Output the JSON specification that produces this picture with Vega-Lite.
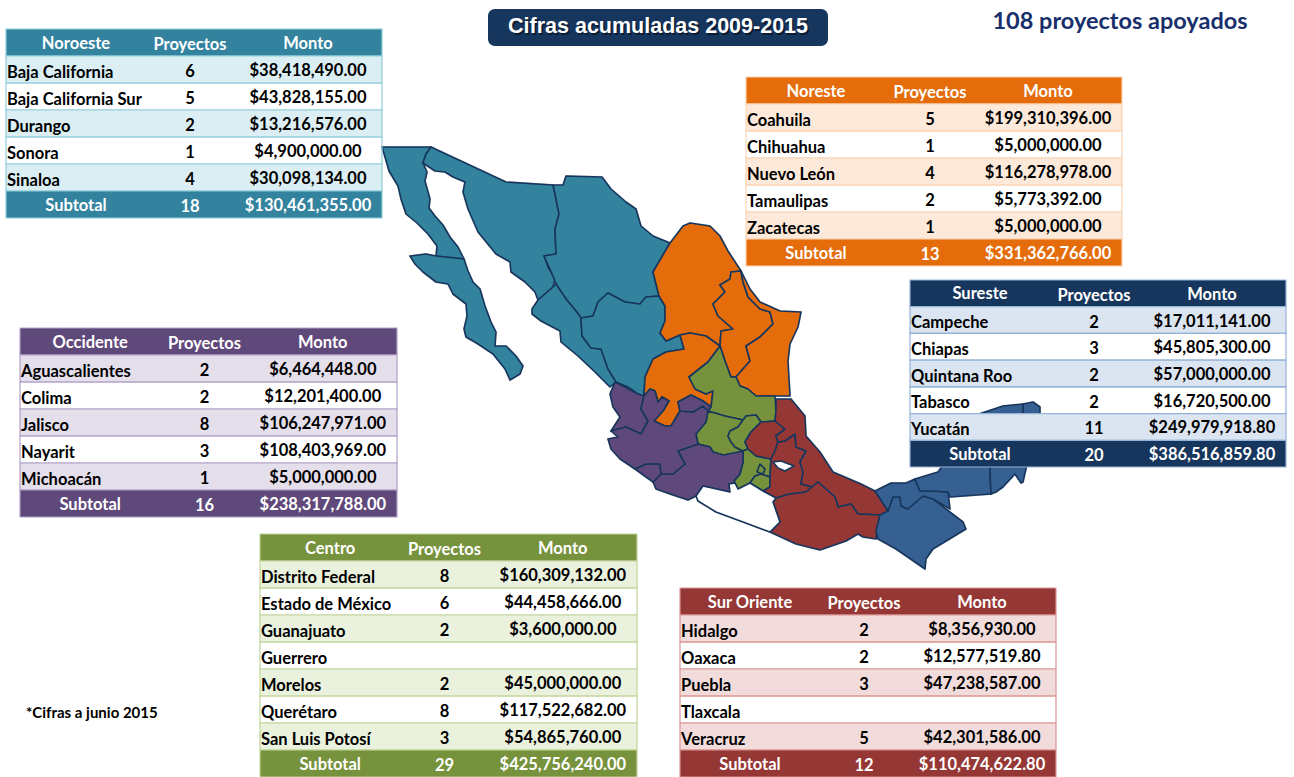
{"$schema":"https://vega.github.io/schema/vega-lite/v6.json","width":1294,"height":777,"padding":0,"autosize":{"type":"fit","contains":"padding"},"background":"white","view":{"stroke":null},
"datasets":{
"tablas":[
{"region":"Noroeste","fila":"encabezado","nombre":"Noroeste","proyectos":"Proyectos","monto":"Monto"},
{"region":"Noroeste","fila":"par","nombre":"Baja California","proyectos":"6","monto":"$38,418,490.00"},
{"region":"Noroeste","fila":"impar","nombre":"Baja California Sur","proyectos":"5","monto":"$43,828,155.00"},
{"region":"Noroeste","fila":"par","nombre":"Durango","proyectos":"2","monto":"$13,216,576.00"},
{"region":"Noroeste","fila":"impar","nombre":"Sonora","proyectos":"1","monto":"$4,900,000.00"},
{"region":"Noroeste","fila":"par","nombre":"Sinaloa","proyectos":"4","monto":"$30,098,134.00"},
{"region":"Noroeste","fila":"subtotal","nombre":"Subtotal","proyectos":"18","monto":"$130,461,355.00"},
{"region":"Noreste","fila":"encabezado","nombre":"Noreste","proyectos":"Proyectos","monto":"Monto"},
{"region":"Noreste","fila":"par","nombre":"Coahuila","proyectos":"5","monto":"$199,310,396.00"},
{"region":"Noreste","fila":"impar","nombre":"Chihuahua","proyectos":"1","monto":"$5,000,000.00"},
{"region":"Noreste","fila":"par","nombre":"Nuevo León","proyectos":"4","monto":"$116,278,978.00"},
{"region":"Noreste","fila":"impar","nombre":"Tamaulipas","proyectos":"2","monto":"$5,773,392.00"},
{"region":"Noreste","fila":"par","nombre":"Zacatecas","proyectos":"1","monto":"$5,000,000.00"},
{"region":"Noreste","fila":"subtotal","nombre":"Subtotal","proyectos":"13","monto":"$331,362,766.00"},
{"region":"Sureste","fila":"encabezado","nombre":"Sureste","proyectos":"Proyectos","monto":"Monto"},
{"region":"Sureste","fila":"par","nombre":"Campeche","proyectos":"2","monto":"$17,011,141.00"},
{"region":"Sureste","fila":"impar","nombre":"Chiapas","proyectos":"3","monto":"$45,805,300.00"},
{"region":"Sureste","fila":"par","nombre":"Quintana Roo","proyectos":"2","monto":"$57,000,000.00"},
{"region":"Sureste","fila":"impar","nombre":"Tabasco","proyectos":"2","monto":"$16,720,500.00"},
{"region":"Sureste","fila":"par","nombre":"Yucatán","proyectos":"11","monto":"$249,979,918.80"},
{"region":"Sureste","fila":"subtotal","nombre":"Subtotal","proyectos":"20","monto":"$386,516,859.80"},
{"region":"Occidente","fila":"encabezado","nombre":"Occidente","proyectos":"Proyectos","monto":"Monto"},
{"region":"Occidente","fila":"par","nombre":"Aguascalientes","proyectos":"2","monto":"$6,464,448.00"},
{"region":"Occidente","fila":"impar","nombre":"Colima","proyectos":"2","monto":"$12,201,400.00"},
{"region":"Occidente","fila":"par","nombre":"Jalisco","proyectos":"8","monto":"$106,247,971.00"},
{"region":"Occidente","fila":"impar","nombre":"Nayarit","proyectos":"3","monto":"$108,403,969.00"},
{"region":"Occidente","fila":"par","nombre":"Michoacán","proyectos":"1","monto":"$5,000,000.00"},
{"region":"Occidente","fila":"subtotal","nombre":"Subtotal","proyectos":"16","monto":"$238,317,788.00"},
{"region":"Centro","fila":"encabezado","nombre":"Centro","proyectos":"Proyectos","monto":"Monto"},
{"region":"Centro","fila":"par","nombre":"Distrito Federal","proyectos":"8","monto":"$160,309,132.00"},
{"region":"Centro","fila":"impar","nombre":"Estado de México","proyectos":"6","monto":"$44,458,666.00"},
{"region":"Centro","fila":"par","nombre":"Guanajuato","proyectos":"2","monto":"$3,600,000.00"},
{"region":"Centro","fila":"impar","nombre":"Guerrero","proyectos":"","monto":""},
{"region":"Centro","fila":"par","nombre":"Morelos","proyectos":"2","monto":"$45,000,000.00"},
{"region":"Centro","fila":"impar","nombre":"Querétaro","proyectos":"8","monto":"$117,522,682.00"},
{"region":"Centro","fila":"par","nombre":"San Luis Potosí","proyectos":"3","monto":"$54,865,760.00"},
{"region":"Centro","fila":"subtotal","nombre":"Subtotal","proyectos":"29","monto":"$425,756,240.00"},
{"region":"Sur Oriente","fila":"encabezado","nombre":"Sur Oriente","proyectos":"Proyectos","monto":"Monto"},
{"region":"Sur Oriente","fila":"par","nombre":"Hidalgo","proyectos":"2","monto":"$8,356,930.00"},
{"region":"Sur Oriente","fila":"impar","nombre":"Oaxaca","proyectos":"2","monto":"$12,577,519.80"},
{"region":"Sur Oriente","fila":"par","nombre":"Puebla","proyectos":"3","monto":"$47,238,587.00"},
{"region":"Sur Oriente","fila":"impar","nombre":"Tlaxcala","proyectos":"","monto":""},
{"region":"Sur Oriente","fila":"par","nombre":"Veracruz","proyectos":"5","monto":"$42,301,586.00"},
{"region":"Sur Oriente","fila":"subtotal","nombre":"Subtotal","proyectos":"12","monto":"$110,474,622.80"}
],
"mapa":[
{"type":"Feature","properties":{"estado":"Baja California","grupo":"Noroeste"},"geometry":{"type":"Polygon","coordinates":[[[379,143],[428,143],[423,150],[420,159],[424,168],[422,177],[427,195],[426,204],[432,212],[440,221],[447,233],[455,243],[461,255],[433,252],[434,242],[425,230],[414,219],[403,210],[398,195],[395,182],[386,167],[382,153],[379,143]]]}},
{"type":"Feature","properties":{"estado":"Baja California Sur","grupo":"Noroeste"},"geometry":{"type":"Polygon","coordinates":[[[407,252],[423,250],[433,252],[461,255],[465,267],[470,278],[477,285],[482,302],[488,318],[493,328],[492,342],[503,342],[513,352],[520,362],[517,370],[507,376],[502,365],[490,350],[475,340],[463,333],[461,325],[464,312],[463,300],[450,290],[445,280],[433,278],[420,268],[412,260],[407,252]]]}},
{"type":"Feature","properties":{"estado":"Sonora","grupo":"Noroeste"},"geometry":{"type":"Polygon","coordinates":[[[428,143],[503,178],[550,181],[552,190],[556,210],[552,225],[553,250],[541,252],[545,263],[552,275],[550,283],[535,296],[532,288],[522,278],[508,268],[507,258],[493,250],[475,228],[465,205],[460,188],[462,178],[450,173],[442,168],[432,167],[420,159],[423,150],[428,143]]]}},
{"type":"Feature","properties":{"estado":"Chihuahua","grupo":"Noroeste"},"geometry":{"type":"Polygon","coordinates":[[[550,181],[560,181],[563,172],[599,173],[608,185],[623,198],[633,205],[638,222],[650,232],[667,239],[650,268],[656,292],[643,293],[637,300],[622,298],[605,289],[595,298],[590,312],[578,314],[573,307],[563,295],[553,280],[550,272],[541,252],[553,250],[552,225],[556,210],[552,190],[550,181]]]}},
{"type":"Feature","properties":{"estado":"Sinaloa","grupo":"Noroeste"},"geometry":{"type":"Polygon","coordinates":[[[553,280],[563,295],[573,307],[578,314],[579,332],[588,344],[598,345],[605,365],[613,378],[607,383],[592,368],[575,352],[558,338],[557,327],[538,317],[529,310],[529,305],[535,296],[550,283],[553,280]]]}},
{"type":"Feature","properties":{"estado":"Durango","grupo":"Noroeste"},"geometry":{"type":"Polygon","coordinates":[[[578,314],[590,312],[595,298],[605,289],[622,298],[637,300],[643,293],[656,292],[662,302],[662,317],[657,329],[663,337],[677,331],[681,345],[663,348],[650,355],[642,373],[641,392],[635,390],[625,383],[613,378],[605,365],[598,345],[588,344],[579,332],[578,314]]]}},
{"type":"Feature","properties":{"estado":"Coahuila","grupo":"Noreste"},"geometry":{"type":"Polygon","coordinates":[[[667,239],[680,222],[687,219],[707,222],[717,232],[725,247],[738,267],[728,268],[727,275],[717,281],[722,288],[710,300],[715,312],[730,325],[718,327],[717,342],[703,332],[687,329],[677,331],[663,337],[657,329],[662,317],[662,302],[656,292],[650,268],[667,239]]]}},
{"type":"Feature","properties":{"estado":"Zacatecas","grupo":"Noreste"},"geometry":{"type":"Polygon","coordinates":[[[677,331],[687,329],[703,332],[717,342],[705,358],[686,373],[692,385],[703,390],[710,387],[708,403],[700,397],[688,391],[675,398],[677,407],[668,422],[662,422],[651,417],[660,407],[666,397],[659,393],[655,398],[652,387],[647,385],[641,392],[642,373],[650,355],[663,348],[681,345],[677,331]]]}},
{"type":"Feature","properties":{"estado":"Nuevo León","grupo":"Noreste"},"geometry":{"type":"Polygon","coordinates":[[[728,268],[738,267],[740,278],[745,293],[757,305],[767,308],[770,320],[757,333],[743,342],[747,357],[733,373],[728,373],[722,357],[717,342],[718,327],[730,325],[715,312],[710,300],[722,288],[717,281],[727,275],[728,268]]]}},
{"type":"Feature","properties":{"estado":"Tamaulipas","grupo":"Noreste"},"geometry":{"type":"Polygon","coordinates":[[[738,267],[747,285],[757,298],[777,307],[798,308],[795,323],[787,340],[785,357],[787,392],[772,392],[753,392],[745,385],[737,382],[733,373],[747,357],[743,342],[757,333],[770,320],[767,308],[757,305],[745,293],[740,278],[738,267]]]}},
{"type":"Feature","properties":{"estado":"San Luis Potosí","grupo":"Centro"},"geometry":{"type":"Polygon","coordinates":[[[717,342],[722,357],[728,373],[733,373],[737,382],[745,385],[753,392],[772,392],[773,407],[772,417],[758,418],[753,411],[743,412],[740,416],[722,412],[705,407],[708,403],[710,387],[703,390],[692,385],[686,373],[705,358],[717,342]]]}},
{"type":"Feature","properties":{"estado":"Guanajuato","grupo":"Centro"},"geometry":{"type":"Polygon","coordinates":[[[705,407],[703,418],[693,430],[695,440],[707,443],[710,448],[720,451],[732,450],[740,447],[732,443],[728,438],[725,432],[727,427],[735,423],[740,416],[722,412],[705,407]]]}},
{"type":"Feature","properties":{"estado":"Querétaro","grupo":"Centro"},"geometry":{"type":"Polygon","coordinates":[[[740,416],[743,412],[753,411],[758,418],[748,428],[742,438],[745,445],[740,447],[732,443],[728,438],[725,432],[727,427],[735,423],[740,416]]]}},
{"type":"Feature","properties":{"estado":"Estado de México","grupo":"Centro"},"geometry":{"type":"Polygon","coordinates":[[[745,445],[740,447],[740,458],[737,470],[731,477],[735,485],[747,479],[752,472],[758,470],[767,473],[768,455],[753,452],[745,445]]]}},
{"type":"Feature","properties":{"estado":"Morelos","grupo":"Centro"},"geometry":{"type":"Polygon","coordinates":[[[752,472],[758,470],[767,473],[767,483],[760,487],[747,479],[752,472]]]}},
{"type":"Feature","properties":{"estado":"Distrito Federal","grupo":"Centro"},"geometry":{"type":"Polygon","coordinates":[[[757,460],[762,465],[760,470],[754,468],[757,460]]]}},
{"type":"Feature","properties":{"estado":"Hidalgo","grupo":"Sur Oriente"},"geometry":{"type":"Polygon","coordinates":[[[742,438],[748,428],[758,418],[772,417],[782,425],[773,432],[775,438],[772,447],[768,455],[753,452],[745,445],[742,438]]]}},
{"type":"Feature","properties":{"estado":"Puebla","grupo":"Sur Oriente"},"geometry":{"type":"Polygon","coordinates":[[[768,455],[772,447],[775,438],[782,437],[792,430],[793,443],[803,447],[797,458],[800,468],[798,480],[810,483],[815,478],[803,488],[787,490],[773,494],[760,487],[767,483],[767,473],[768,455]]]}},
{"type":"Feature","properties":{"estado":"Veracruz","grupo":"Sur Oriente"},"geometry":{"type":"Polygon","coordinates":[[[773,395],[788,395],[802,412],[803,432],[817,448],[830,468],[858,480],[872,487],[885,507],[877,511],[855,510],[848,500],[835,503],[832,493],[815,478],[810,483],[798,480],[800,468],[797,458],[803,447],[793,443],[792,430],[782,437],[775,438],[773,432],[782,425],[772,417],[773,407],[773,395]]]}},
{"type":"Feature","properties":{"estado":"Oaxaca","grupo":"Sur Oriente"},"geometry":{"type":"Polygon","coordinates":[[[770,498],[773,494],[787,490],[803,488],[815,478],[832,493],[835,503],[848,500],[855,510],[877,511],[873,535],[860,533],[855,530],[843,537],[817,546],[793,540],[767,528],[777,518],[770,498]]]}},
{"type":"Feature","properties":{"estado":"Michoacán","grupo":"Occidente"},"geometry":{"type":"Polygon","coordinates":[[[650,478],[658,470],[670,470],[682,460],[675,447],[695,440],[707,443],[710,448],[720,451],[740,447],[740,458],[737,470],[731,477],[732,479],[726,480],[727,488],[700,482],[693,492],[685,496],[667,490],[653,485],[650,478]]]}},
{"type":"Feature","properties":{"estado":"Colima","grupo":"Occidente"},"geometry":{"type":"Polygon","coordinates":[[[632,465],[643,460],[657,460],[658,470],[650,478],[643,473],[632,465]]]}},
{"type":"Feature","properties":{"estado":"Nayarit","grupo":"Occidente"},"geometry":{"type":"Polygon","coordinates":[[[612,378],[622,383],[635,390],[641,392],[638,405],[645,417],[638,430],[623,423],[608,427],[617,413],[610,403],[607,390],[612,378]]]}},
{"type":"Feature","properties":{"estado":"Jalisco","grupo":"Occidente"},"geometry":{"type":"Polygon","coordinates":[[[605,435],[615,433],[608,427],[623,423],[638,430],[645,417],[638,405],[641,392],[647,385],[652,387],[655,398],[659,393],[666,397],[660,407],[651,417],[662,422],[668,422],[677,407],[690,408],[700,402],[705,407],[703,418],[693,430],[695,440],[675,447],[682,460],[670,470],[658,470],[657,460],[643,460],[632,465],[617,455],[608,445],[605,435]]]}},
{"type":"Feature","properties":{"estado":"Aguascalientes","grupo":"Occidente"},"geometry":{"type":"Polygon","coordinates":[[[675,398],[688,391],[700,397],[708,403],[705,407],[700,402],[690,408],[677,407],[675,398]]]}},
{"type":"Feature","properties":{"estado":"Chiapas","grupo":"Sureste"},"geometry":{"type":"Polygon","coordinates":[[[885,507],[877,511],[873,527],[875,535],[893,545],[922,565],[923,555],[930,545],[963,525],[960,518],[930,495],[920,492],[905,505],[898,502],[897,493],[890,493],[885,507]]]}},
{"type":"Feature","properties":{"estado":"Tabasco","grupo":"Sureste"},"geometry":{"type":"Polygon","coordinates":[[[872,487],[888,479],[903,479],[912,475],[917,487],[930,487],[945,488],[947,505],[930,495],[920,492],[905,505],[898,502],[897,493],[890,493],[885,507],[872,487]]]}},
{"type":"Feature","properties":{"estado":"Campeche","grupo":"Sureste"},"geometry":{"type":"Polygon","coordinates":[[[912,475],[935,468],[957,437],[967,413],[993,415],[990,440],[987,467],[988,490],[947,493],[945,488],[930,487],[917,487],[912,475]]]}},
{"type":"Feature","properties":{"estado":"Yucatán","grupo":"Sureste"},"geometry":{"type":"Polygon","coordinates":[[[967,413],[1000,402],[1020,400],[1020,420],[1000,440],[990,440],[993,415],[967,413]]]}},
{"type":"Feature","properties":{"estado":"Quintana Roo","grupo":"Sureste"},"geometry":{"type":"Polygon","coordinates":[[[1020,400],[1030,398],[1037,403],[1037,413],[1027,447],[1020,478],[1018,479],[1012,470],[1000,483],[993,488],[988,490],[987,467],[990,440],[1000,440],[1020,420],[1020,400]]]}},
{"type":"Feature","properties":{"estado":"Guerrero","grupo":"Sin proyectos"},"geometry":{"type":"Polygon","coordinates":[[[693,492],[700,482],[727,488],[726,480],[732,479],[735,485],[747,479],[760,487],[773,494],[770,498],[777,518],[767,528],[740,518],[713,508],[695,497],[693,492]]]}},
{"type":"Feature","properties":{"estado":"Tlaxcala","grupo":"Sin proyectos"},"geometry":{"type":"Polygon","coordinates":[[[770,458],[778,457],[791,462],[782,467],[775,464],[770,458]]]}}
]},
"resolve":{"scale":{"x":"independent","y":"independent","fill":"independent","color":"independent"}},
"layer":[
{"data":{"name":"mapa"},"mark":{"type":"geoshape","fill":"#000000","fillOpacity":0.16,"stroke":"#000000","strokeOpacity":0.16,"strokeWidth":2},"projection":{"type":"identity","scale":1,"translate":[3,4]},"encoding":{}},
{"data":{"name":"mapa"},"mark":{"type":"geoshape","stroke":"#17365D","strokeWidth":1.6,"strokeJoin":"round"},"projection":{"type":"identity","scale":1,"translate":[0,0]},"encoding":{"fill":{"field":"properties.grupo","type":"nominal","legend":null,"scale":{"domain":["Noroeste","Noreste","Sureste","Occidente","Centro","Sur Oriente","Sin proyectos"],"range":["#33839F","#E46C0A","#376092","#5F497A","#76923C","#953735","#FFFFFF"]}}}},

{"data":{"name":"tablas"},"transform":[{"filter":"datum.region==='Noroeste'"}],
"encoding":{"y":{"field":"nombre","type":"nominal","sort":null,"axis":null,"scale":{"range":[29,218],"paddingInner":0,"paddingOuter":0}}},
"layer":[
{"mark":{"type":"rect","stroke":"#92CDDC","strokeWidth":1.2},"encoding":{"x":{"datum":0,"type":"quantitative","axis":null,"scale":{"domain":[0,376],"range":[6,382],"nice":false}},"x2":{"datum":376},"fill":{"field":"fila","type":"nominal","legend":null,"scale":{"domain":["encabezado","par","impar","subtotal"],"range":["#33839F","#DAEEF3","transparent","#33839F"]}}}},
{"transform":[{"filter":"datum.fila==='par'||datum.fila==='impar'"}],"mark":{"type":"text","align":"left","font":"Lato","fontWeight":"bold","fontSize":16.5,"dy":3,"color":"black"},"encoding":{"x":{"datum":1,"type":"quantitative"},"text":{"field":"nombre"}}},
{"transform":[{"filter":"datum.fila==='encabezado'||datum.fila==='subtotal'"}],"mark":{"type":"text","font":"Lato","fontWeight":"bold","fontSize":16.5,"dy":1,"color":"white"},"encoding":{"x":{"datum":70,"type":"quantitative"},"text":{"field":"nombre"}}},
{"mark":{"type":"text","font":"Lato","fontWeight":"bold","fontSize":16.5,"dy":2.5},"encoding":{"x":{"datum":184,"type":"quantitative"},"text":{"field":"proyectos"},"color":{"field":"fila","type":"nominal","legend":null,"scale":{"domain":["encabezado","par","impar","subtotal"],"range":["white","black","black","white"]}}}},
{"mark":{"type":"text","font":"Lato","fontWeight":"bold","fontSize":16.5,"dy":1.5},"encoding":{"x":{"datum":302,"type":"quantitative"},"text":{"field":"monto"},"color":{"field":"fila","type":"nominal","legend":null,"scale":{"domain":["encabezado","par","impar","subtotal"],"range":["white","black","black","white"]}}}}
]},

{"data":{"name":"tablas"},"transform":[{"filter":"datum.region==='Noreste'"}],
"encoding":{"y":{"field":"nombre","type":"nominal","sort":null,"axis":null,"scale":{"range":[77,266],"paddingInner":0,"paddingOuter":0}}},
"layer":[
{"mark":{"type":"rect","stroke":"#FBD4B4","strokeWidth":1.2},"encoding":{"x":{"datum":0,"type":"quantitative","axis":null,"scale":{"domain":[0,376],"range":[746,1122],"nice":false}},"x2":{"datum":376},"fill":{"field":"fila","type":"nominal","legend":null,"scale":{"domain":["encabezado","par","impar","subtotal"],"range":["#E46C0A","#FDE9D9","transparent","#E46C0A"]}}}},
{"transform":[{"filter":"datum.fila==='par'||datum.fila==='impar'"}],"mark":{"type":"text","align":"left","font":"Lato","fontWeight":"bold","fontSize":16.5,"dy":3,"color":"black"},"encoding":{"x":{"datum":1,"type":"quantitative"},"text":{"field":"nombre"}}},
{"transform":[{"filter":"datum.fila==='encabezado'||datum.fila==='subtotal'"}],"mark":{"type":"text","font":"Lato","fontWeight":"bold","fontSize":16.5,"dy":1,"color":"white"},"encoding":{"x":{"datum":70,"type":"quantitative"},"text":{"field":"nombre"}}},
{"mark":{"type":"text","font":"Lato","fontWeight":"bold","fontSize":16.5,"dy":2.5},"encoding":{"x":{"datum":184,"type":"quantitative"},"text":{"field":"proyectos"},"color":{"field":"fila","type":"nominal","legend":null,"scale":{"domain":["encabezado","par","impar","subtotal"],"range":["white","black","black","white"]}}}},
{"mark":{"type":"text","font":"Lato","fontWeight":"bold","fontSize":16.5,"dy":1.5},"encoding":{"x":{"datum":302,"type":"quantitative"},"text":{"field":"monto"},"color":{"field":"fila","type":"nominal","legend":null,"scale":{"domain":["encabezado","par","impar","subtotal"],"range":["white","black","black","white"]}}}}
]},

{"data":{"name":"tablas"},"transform":[{"filter":"datum.region==='Sureste'"}],
"encoding":{"y":{"field":"nombre","type":"nominal","sort":null,"axis":null,"scale":{"range":[280,467],"paddingInner":0,"paddingOuter":0}}},
"layer":[
{"mark":{"type":"rect","stroke":"#95B3D7","strokeWidth":1.2},"encoding":{"x":{"datum":0,"type":"quantitative","axis":null,"scale":{"domain":[0,376],"range":[910,1286],"nice":false}},"x2":{"datum":376},"fill":{"field":"fila","type":"nominal","legend":null,"scale":{"domain":["encabezado","par","impar","subtotal"],"range":["#17365D","#DBE5F1","transparent","#17365D"]}}}},
{"transform":[{"filter":"datum.fila==='par'||datum.fila==='impar'"}],"mark":{"type":"text","align":"left","font":"Lato","fontWeight":"bold","fontSize":16.5,"dy":3,"color":"black"},"encoding":{"x":{"datum":1,"type":"quantitative"},"text":{"field":"nombre"}}},
{"transform":[{"filter":"datum.fila==='encabezado'||datum.fila==='subtotal'"}],"mark":{"type":"text","font":"Lato","fontWeight":"bold","fontSize":16.5,"dy":1,"color":"white"},"encoding":{"x":{"datum":70,"type":"quantitative"},"text":{"field":"nombre"}}},
{"mark":{"type":"text","font":"Lato","fontWeight":"bold","fontSize":16.5,"dy":2.5},"encoding":{"x":{"datum":184,"type":"quantitative"},"text":{"field":"proyectos"},"color":{"field":"fila","type":"nominal","legend":null,"scale":{"domain":["encabezado","par","impar","subtotal"],"range":["white","black","black","white"]}}}},
{"mark":{"type":"text","font":"Lato","fontWeight":"bold","fontSize":16.5,"dy":1.5},"encoding":{"x":{"datum":302,"type":"quantitative"},"text":{"field":"monto"},"color":{"field":"fila","type":"nominal","legend":null,"scale":{"domain":["encabezado","par","impar","subtotal"],"range":["white","black","black","white"]}}}}
]},

{"data":{"name":"tablas"},"transform":[{"filter":"datum.region==='Occidente'"}],
"encoding":{"y":{"field":"nombre","type":"nominal","sort":null,"axis":null,"scale":{"range":[328,517],"paddingInner":0,"paddingOuter":0}}},
"layer":[
{"mark":{"type":"rect","stroke":"#B2A1C7","strokeWidth":1.2},"encoding":{"x":{"datum":0,"type":"quantitative","axis":null,"scale":{"domain":[0,376],"range":[20,397],"nice":false}},"x2":{"datum":376},"fill":{"field":"fila","type":"nominal","legend":null,"scale":{"domain":["encabezado","par","impar","subtotal"],"range":["#5F497A","#E5DFEC","transparent","#5F497A"]}}}},
{"transform":[{"filter":"datum.fila==='par'||datum.fila==='impar'"}],"mark":{"type":"text","align":"left","font":"Lato","fontWeight":"bold","fontSize":16.5,"dy":3,"color":"black"},"encoding":{"x":{"datum":1,"type":"quantitative"},"text":{"field":"nombre"}}},
{"transform":[{"filter":"datum.fila==='encabezado'||datum.fila==='subtotal'"}],"mark":{"type":"text","font":"Lato","fontWeight":"bold","fontSize":16.5,"dy":1,"color":"white"},"encoding":{"x":{"datum":70,"type":"quantitative"},"text":{"field":"nombre"}}},
{"mark":{"type":"text","font":"Lato","fontWeight":"bold","fontSize":16.5,"dy":2.5},"encoding":{"x":{"datum":184,"type":"quantitative"},"text":{"field":"proyectos"},"color":{"field":"fila","type":"nominal","legend":null,"scale":{"domain":["encabezado","par","impar","subtotal"],"range":["white","black","black","white"]}}}},
{"mark":{"type":"text","font":"Lato","fontWeight":"bold","fontSize":16.5,"dy":1.5},"encoding":{"x":{"datum":302,"type":"quantitative"},"text":{"field":"monto"},"color":{"field":"fila","type":"nominal","legend":null,"scale":{"domain":["encabezado","par","impar","subtotal"],"range":["white","black","black","white"]}}}}
]},

{"data":{"name":"tablas"},"transform":[{"filter":"datum.region==='Centro'"}],
"encoding":{"y":{"field":"nombre","type":"nominal","sort":null,"axis":null,"scale":{"range":[534,777],"paddingInner":0,"paddingOuter":0}}},
"layer":[
{"mark":{"type":"rect","stroke":"#C2D69B","strokeWidth":1.2},"encoding":{"x":{"datum":0,"type":"quantitative","axis":null,"scale":{"domain":[0,376],"range":[260,637],"nice":false}},"x2":{"datum":376},"fill":{"field":"fila","type":"nominal","legend":null,"scale":{"domain":["encabezado","par","impar","subtotal"],"range":["#76923C","#EAF1DD","transparent","#76923C"]}}}},
{"transform":[{"filter":"datum.fila==='par'||datum.fila==='impar'"}],"mark":{"type":"text","align":"left","font":"Lato","fontWeight":"bold","fontSize":16.5,"dy":3,"color":"black"},"encoding":{"x":{"datum":1,"type":"quantitative"},"text":{"field":"nombre"}}},
{"transform":[{"filter":"datum.fila==='encabezado'||datum.fila==='subtotal'"}],"mark":{"type":"text","font":"Lato","fontWeight":"bold","fontSize":16.5,"dy":1,"color":"white"},"encoding":{"x":{"datum":70,"type":"quantitative"},"text":{"field":"nombre"}}},
{"mark":{"type":"text","font":"Lato","fontWeight":"bold","fontSize":16.5,"dy":2.5},"encoding":{"x":{"datum":184,"type":"quantitative"},"text":{"field":"proyectos"},"color":{"field":"fila","type":"nominal","legend":null,"scale":{"domain":["encabezado","par","impar","subtotal"],"range":["white","black","black","white"]}}}},
{"mark":{"type":"text","font":"Lato","fontWeight":"bold","fontSize":16.5,"dy":1.5},"encoding":{"x":{"datum":302,"type":"quantitative"},"text":{"field":"monto"},"color":{"field":"fila","type":"nominal","legend":null,"scale":{"domain":["encabezado","par","impar","subtotal"],"range":["white","black","black","white"]}}}}
]},

{"data":{"name":"tablas"},"transform":[{"filter":"datum.region==='Sur Oriente'"}],
"encoding":{"y":{"field":"nombre","type":"nominal","sort":null,"axis":null,"scale":{"range":[588,777],"paddingInner":0,"paddingOuter":0}}},
"layer":[
{"mark":{"type":"rect","stroke":"#D99694","strokeWidth":1.2},"encoding":{"x":{"datum":0,"type":"quantitative","axis":null,"scale":{"domain":[0,376],"range":[680,1056],"nice":false}},"x2":{"datum":376},"fill":{"field":"fila","type":"nominal","legend":null,"scale":{"domain":["encabezado","par","impar","subtotal"],"range":["#953735","#F2DBDB","transparent","#953735"]}}}},
{"transform":[{"filter":"datum.fila==='par'||datum.fila==='impar'"}],"mark":{"type":"text","align":"left","font":"Lato","fontWeight":"bold","fontSize":16.5,"dy":3,"color":"black"},"encoding":{"x":{"datum":1,"type":"quantitative"},"text":{"field":"nombre"}}},
{"transform":[{"filter":"datum.fila==='encabezado'||datum.fila==='subtotal'"}],"mark":{"type":"text","font":"Lato","fontWeight":"bold","fontSize":16.5,"dy":1,"color":"white"},"encoding":{"x":{"datum":70,"type":"quantitative"},"text":{"field":"nombre"}}},
{"mark":{"type":"text","font":"Lato","fontWeight":"bold","fontSize":16.5,"dy":2.5},"encoding":{"x":{"datum":184,"type":"quantitative"},"text":{"field":"proyectos"},"color":{"field":"fila","type":"nominal","legend":null,"scale":{"domain":["encabezado","par","impar","subtotal"],"range":["white","black","black","white"]}}}},
{"mark":{"type":"text","font":"Lato","fontWeight":"bold","fontSize":16.5,"dy":1.5},"encoding":{"x":{"datum":302,"type":"quantitative"},"text":{"field":"monto"},"color":{"field":"fila","type":"nominal","legend":null,"scale":{"domain":["encabezado","par","impar","subtotal"],"range":["white","black","black","white"]}}}}
]},

{"data":{"values":[{"titulo":"Cifras acumuladas 2009-2015"}]},
"encoding":{"y":{"datum":0.5,"type":"quantitative","axis":null,"scale":{"domain":[0,1],"range":[9,46]}}},
"layer":[
{"mark":{"type":"rect","fill":"#17365D","cornerRadius":7},"encoding":{"x":{"datum":0,"type":"quantitative","axis":null,"scale":{"domain":[0,1],"range":[488,828]}},"x2":{"datum":1},"y":{"datum":0,"type":"quantitative","axis":null,"scale":{"domain":[0,1],"range":[9,46]}},"y2":{"datum":1}}},
{"mark":{"type":"text","font":"Liberation Sans","fontWeight":"bold","fontSize":21.5,"color":"#0b1c33","dx":1.5,"dy":1},"encoding":{"x":{"datum":0.5,"type":"quantitative"},"text":{"field":"titulo"}}},
{"mark":{"type":"text","font":"Liberation Sans","fontWeight":"bold","fontSize":21.5,"color":"white","dy":-1},"encoding":{"x":{"datum":0.5,"type":"quantitative"},"text":{"field":"titulo"}}}
]},

{"data":{"values":[{"nota":"108 proyectos apoyados"}]},"mark":{"type":"text","font":"Lato","fontWeight":"bold","fontSize":23.5,"color":"#172F6B"},"encoding":{"x":{"datum":0.5,"type":"quantitative","axis":null,"scale":{"domain":[0,1],"range":[990,1250]}},"y":{"datum":0.5,"type":"quantitative","axis":null,"scale":{"domain":[0,1],"range":[8,36]}},"text":{"field":"nota"}}},

{"data":{"values":[{"nota":"*Cifras a junio 2015"}]},"mark":{"type":"text","font":"Lato","fontWeight":"bold","fontSize":15,"align":"left","color":"black"},"encoding":{"x":{"datum":0,"type":"quantitative","axis":null,"scale":{"domain":[0,1],"range":[26,160]}},"y":{"datum":0.5,"type":"quantitative","axis":null,"scale":{"domain":[0,1],"range":[703,723]}},"text":{"field":"nota"}}}
]}
